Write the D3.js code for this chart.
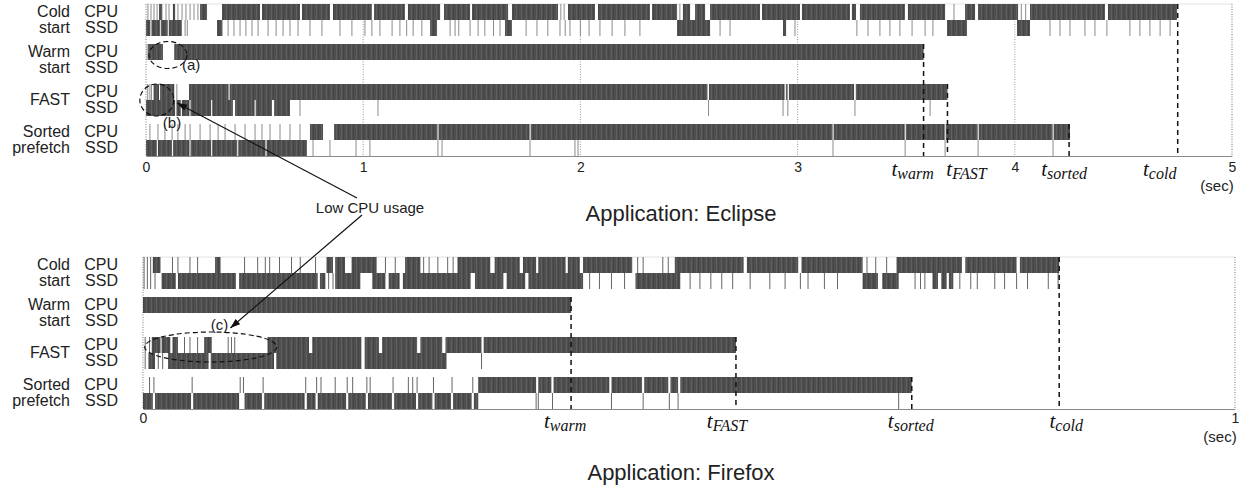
<!DOCTYPE html>
<html lang="en">
<head>
<meta charset="UTF-8">
<title>Launch traces: Eclipse and Firefox</title>
<script src="https://d3js.org/d3.v7.min.js"></script>
<style>
    body { margin: 0; background: #fff; }
    svg { display: block; font-family: "Liberation Sans", Arial, Helvetica, sans-serif; }
    .row-label { font-size: 16px; fill: #222; }
    .tick text { font-size: 14px; fill: #222; }
    .tmark { font-family: "Liberation Serif", "Times New Roman", serif; font-style: italic; fill: #111; }
    .note { font-size: 15px; fill: #222; }
    .title { font-size: 22px; fill: #222; }
</style>
</head>
<body>
<svg id="chart" width="1241" height="489"></svg>
<script>
    // scenario rows, each with a CPU and an SSD trace
    const scenarios = ["Cold start", "Warm start", "FAST", "Sorted prefetch"];
    const scenarioLabels = [["Cold", "start"], ["Warm", "start"], ["FAST"], ["Sorted", "prefetch"]];
    const devices = ["CPU", "SSD"];
    const markerNames = ["warm", "FAST", "sorted", "cold"];
    const markerScenario = ["Warm start", "FAST", "Sorted prefetch", "Cold start"];

    const eclipseTicks = [0, 1, 2, 3, 4, 5];
    const firefoxTicks = [0, 1];
    // launch completion times (sec) for warm, FAST, sorted, cold
    const eclipseLaunch = [3.58, 3.69, 4.25, 4.75];
    const firefoxLaunch = [0.392, 0.543, 0.704, 0.839];

    // busy spans [start, end] in sec, plain numbers are short single events
    const eclipseColdCpu = [0.009, 0.023, 0.037, 0.051, [0.06, 0.075], 0.092, 0.106, [0.124, 0.134], 0.147, 0.166, 0.184, 0.203, 0.221, 0.239,
        [0.249, 0.281], [0.35, 0.525], [0.534, 0.709], [0.718, 0.847], [0.861, 1.04], [1.05, 1.192], [1.206, 1.354], [1.372, 1.492],
        [1.501, 1.667], [1.685, 1.897], 1.91, 1.925, [1.943, 2.067], [2.081, 2.32], [2.33, 2.445], 2.458, [2.472, 2.505], [2.528, 2.574],
        [2.597, 2.827], [2.836, 3.011], [3.02, 3.241], [3.25, 3.269], [3.287, 3.494], [3.508, 3.679], 3.72, [3.771, 3.817],
        [3.831, 4.015], 4.03, 4.05, [4.07, 4.415], [4.429, 4.747]];
    const eclipseColdSsd = [[0, 0.02], [0.025, 0.064], [0.068, 0.1], [0.105, 0.165], 0.18, 0.19, [0.327, 0.352], 0.378, 0.405, 0.433,
        0.46, 0.488, 0.516, 0.562, 0.599, 0.631, 0.663, 0.7, 0.755, 0.81, 0.893, 0.948, 1.008, 1.04, 1.077, 1.133, 1.169, 1.2,
        1.23, 1.27, [1.308, 1.34], 1.4, 1.423, 1.44, 1.492, 1.529, 1.56, 1.6, 1.63, [1.653, 1.685], 1.75, 1.8, 1.85, 1.906, 1.93,
        1.952, 2.0, 2.04, 2.09, 2.146, 2.205, 2.274, [2.445, 2.597], 2.643, 2.689, [2.933, 2.947], 2.988, 3.273, 3.324, 3.379,
        3.425, 3.471, 3.527, 3.587, 3.623, [3.688, 3.78], [4.01, 4.07], 4.162, 4.208, 4.254, 4.323, 4.369, 4.424, 4.53, 4.576,
        4.622, 4.669, 4.715];
    const eclipseWarmCpu = [0.005, [0.01, 0.078], [0.13, 3.58]];
    const eclipseWarmSsd = [];
    const eclipseFastCpu = [0.008, 0.018, 0.025, [0.035, 0.06], [0.065, 0.13], 0.142, [0.198, 0.38], [0.385, 2.585], [2.592, 2.94],
        [2.946, 2.954], [2.96, 3.26], [3.268, 3.69]];
    const eclipseFastSsd = [[0, 0.134], [0.14, 0.16], [0.165, 0.2], [0.205, 0.3], [0.305, 0.4], [0.41, 0.5], [0.505, 0.58],
        [0.59, 0.663], 0.709, 1.068, 2.59, 2.933, 2.955, 3.264, 3.61];
    const eclipseSortedCpu = [0.018, 0.055, 0.087, 0.12, 0.147, 0.18, 0.203, 0.249, 0.295, 0.332, 0.364, 0.41, 0.456, 0.502, 0.534,
        0.571, 0.617, 0.663, 0.709, [0.755, 0.815], [0.866, 1.342], [1.347, 1.766], [1.771, 3.161], [3.166, 3.493], [3.498, 3.677],
        [3.682, 3.829], [3.834, 4.174], [4.179, 4.254]];
    const eclipseSortedSsd = [[0, 0.05], [0.055, 0.12], [0.125, 0.2], [0.205, 0.3], [0.305, 0.42], [0.425, 0.55], [0.555, 0.741],
        0.769, 0.847, 0.967, 1.031, 1.344, 1.363, 1.768, 1.975, 1.989, 3.163, 3.495, 3.679, 3.831, 4.176];

    const firefoxColdCpu = [0.001, 0.004, 0.007, [0.009, 0.016], 0.027, 0.032, 0.043, 0.05, [0.066, 0.071], 0.093, 0.105, 0.112,
        0.116, 0.125, 0.136, 0.144, 0.158, [0.168, 0.174], [0.176, 0.185], [0.191, 0.214], 0.222, 0.231, [0.24, 0.254], 0.257,
        0.262, 0.27, 0.279, 0.284, [0.288, 0.318], [0.322, 0.345], [0.348, 0.36], [0.362, 0.387], [0.389, 0.4], [0.403, 0.448],
        0.453, 0.458, 0.476, 0.481, [0.487, 0.55], [0.553, 0.6], [0.603, 0.659], 0.663, 0.671, 0.681, [0.69, 0.75], [0.753, 0.8],
        [0.803, 0.839]];
    const firefoxColdSsd = [0.001, 0.004, 0.007, 0.011, [0.017, 0.03], [0.032, 0.085], [0.088, 0.16], [0.162, 0.167], 0.17, 0.174,
        [0.176, 0.199], [0.21, 0.222], [0.225, 0.235], [0.238, 0.3], [0.304, 0.33], [0.333, 0.35], [0.353, 0.403], 0.409, 0.418,
        0.429, 0.441, [0.451, 0.492], 0.501, 0.51, 0.52, 0.53, 0.54, 0.556, 0.574, 0.588, 0.602, 0.609, 0.624, 0.636,
        [0.659, 0.673], [0.677, 0.692], 0.707, 0.712, 0.716, [0.723, 0.728], [0.731, 0.736], [0.738, 0.742], 0.748, 0.758, 0.764,
        0.78, 0.789, 0.8, 0.81, 0.829, 0.838];
    const firefoxWarmCpu = [[0, 0.392]];
    const firefoxWarmSsd = [];
    const firefoxFastCpu = [0.002, 0.006, [0.008, 0.016], [0.017, 0.025], [0.027, 0.032], 0.038, 0.043, 0.05, [0.056, 0.063], 0.078,
        0.081, 0.084, [0.114, 0.152], [0.155, 0.2], [0.203, 0.216], [0.219, 0.251], [0.254, 0.274], [0.277, 0.31], [0.312, 0.543]];
    const firefoxFastSsd = [0.002, [0.005, 0.011], 0.014, 0.018, [0.023, 0.06], [0.062, 0.12], [0.122, 0.2], [0.203, 0.278], 0.31];
    const firefoxSortedCpu = [0.006, 0.01, 0.045, 0.089, 0.092, 0.11, 0.149, 0.159, 0.163, 0.176, 0.187, 0.192, 0.205, 0.208,
        0.229, 0.243, 0.247, 0.251, 0.266, 0.283, 0.302, [0.307, 0.36], [0.362, 0.374], [0.376, 0.427], [0.429, 0.457],
        [0.459, 0.481], [0.483, 0.49], [0.492, 0.704]];
    const firefoxSortedSsd = [[0, 0.009], [0.011, 0.044], [0.046, 0.088], [0.093, 0.109], [0.111, 0.148], [0.15, 0.158],
        [0.16, 0.186], [0.188, 0.204], [0.206, 0.228], [0.23, 0.25], [0.252, 0.265], [0.267, 0.282], [0.284, 0.301],
        [0.303, 0.307], 0.36, 0.362, 0.375, 0.429, 0.458, 0.482, 0.49, 0.692];

    const svg = d3.select("#chart");

    // striped fill so busy spans look like dense trace samples
    const defs = svg.append("defs");
    const pat = defs.append("pattern").attr("id", "busy")
        .attr("width", 5).attr("height", 10).attr("patternUnits", "userSpaceOnUse");
    pat.append("rect").attr("width", 5).attr("height", 10).attr("fill", "#4f4f4f");
    pat.append("rect").attr("x", 1).attr("width", 0.6).attr("height", 10).attr("fill", "#6a6a6a");
    pat.append("rect").attr("x", 3.3).attr("width", 0.5).attr("height", 10).attr("fill", "#3a3a3a");
    defs.append("marker").attr("id", "arrow")
        .attr("viewBox", "0 0 10 7").attr("refX", 10).attr("refY", 3.5)
        .attr("markerWidth", 10).attr("markerHeight", 7).attr("markerUnits", "userSpaceOnUse")
        .attr("orient", "auto")
        .append("path").attr("d", "M0,0 L10,3.5 L0,7 z").attr("fill", "#111");

    function drawPanel(p) {
        const g = svg.append("g");
        const x = d3.scaleLinear().domain([0, p.max]).range(p.xRange);
        const band = d3.scaleBand().domain(scenarios).range(p.yRange).paddingInner(0.2);
        const sub = d3.scaleBand().domain(devices).range([0, band.bandwidth()]);
        const base = p.yRange[1];

        // frame: faint top line, dotted grid at each tick
        g.append("line").attr("x1", x(0)).attr("x2", x(p.max)).attr("y1", p.yRange[0]).attr("y2", p.yRange[0])
            .attr("stroke", "#e2e2e2");
        g.selectAll(".grid").data(p.ticks).join("line")
            .attr("x1", d => x(d)).attr("x2", d => x(d))
            .attr("y1", p.yRange[0]).attr("y2", base)
            .attr("stroke", d => (d === 0 || d === p.max) ? "#777" : "#999")
            .attr("stroke-dasharray", "1,1.5");

        // traces
        scenarios.forEach((s, i) => {
            devices.forEach((dev, j) => {
                const spans = p.traces[i][j];
                const y0 = band(s) + sub(dev);
                g.append("g").selectAll("rect").data(spans).join("rect")
                    .attr("x", d => Array.isArray(d) ? x(d[0]) : x(d) - 0.5)
                    .attr("width", d => Array.isArray(d) ? Math.max(x(d[1]) - x(d[0]), 1) : 1)
                    .attr("y", y0).attr("height", sub.bandwidth())
                    .attr("fill", d => Array.isArray(d) ? "url(#busy)" : p.thin);
            });
        });

        // row labels
        scenarios.forEach((s, i) => {
            const lines = scenarioLabels[i];
            const cy = band(s) + band.bandwidth() / 2;
            lines.forEach((t, k) => {
                const yy = lines.length === 1 ? cy : band(s) + sub(devices[k]) + sub.bandwidth() / 2;
                g.append("text").attr("class", "row-label")
                    .attr("x", 70).attr("y", yy - 1).attr("dy", "0.35em")
                    .attr("text-anchor", "end").text(t);
            });
            devices.forEach(dev => {
                g.append("text").attr("class", "row-label")
                    .attr("x", 118).attr("y", band(s) + sub(dev) + sub.bandwidth() / 2 - 1).attr("dy", "0.35em")
                    .attr("text-anchor", "end").text(dev);
            });
        });

        // axis
        const axis = g.append("g").attr("transform", `translate(0,${base})`)
            .call(d3.axisBottom(x).tickValues(p.ticks).tickSize(0).tickPadding(p.tickPad).tickFormat(d3.format("d")));
        axis.select(".domain").attr("stroke", "#8a8a8a");
        axis.selectAll(".tick text").attr("font-family", null).attr("font-size", null);
        g.append("text").attr("class", "note").attr("font-size", 14)
            .attr("x", x(p.max) - 15).attr("y", base + p.secDy).attr("text-anchor", "middle").text("(sec)");

        // launch completion markers
        markerNames.forEach((m, k) => {
            const t = p.launch[k];
            g.append("line").attr("x1", x(t)).attr("x2", x(t))
                .attr("y1", band(markerScenario[k])).attr("y2", base)
                .attr("stroke", "#111").attr("stroke-width", 1.5).attr("stroke-dasharray", "5,4");
            const lab = g.append("text").attr("class", "tmark")
                .attr("x", x(t) + p.labelDx[k]).attr("y", base + p.labelDy)
                .attr("text-anchor", "middle").attr("font-size", 21).text("t");
            lab.append("tspan").attr("font-size", 16).attr("dy", 3).text(m);
        });

        svg.append("text").attr("class", "title")
            .attr("x", 681).attr("y", p.titleY).attr("text-anchor", "middle").text(p.title);

        return { x, band, sub };
    }

    const eclipsePanel = drawPanel({
        max: 5, ticks: eclipseTicks, xRange: [146, 1232], yRange: [4, 156],
        traces: [[eclipseColdCpu, eclipseColdSsd], [eclipseWarmCpu, eclipseWarmSsd],
                 [eclipseFastCpu, eclipseFastSsd], [eclipseSortedCpu, eclipseSortedSsd]],
        launch: eclipseLaunch, labelDx: [-11, 19, -5, -18], labelDy: 20, secDy: 35, tickPad: 6,
        thin: "#8c8c8c", title: "Application: Eclipse", titleY: 221
    });
    const firefoxPanel = drawPanel({
        max: 1, ticks: firefoxTicks, xRange: [143, 1235], yRange: [257, 409],
        traces: [[firefoxColdCpu, firefoxColdSsd], [firefoxWarmCpu, firefoxWarmSsd],
                 [firefoxFastCpu, firefoxFastSsd], [firefoxSortedCpu, firefoxSortedSsd]],
        launch: firefoxLaunch, labelDx: [-6, -9, -1, 7], labelDy: 19, secDy: 33, tickPad: 4,
        thin: "#666", title: "Application: Firefox", titleY: 480
    });

    // annotations: dashed ellipses marking low CPU usage
    const ann = svg.append("g").attr("fill", "none").attr("stroke", "#111")
        .attr("stroke-width", 1.2).attr("stroke-dasharray", "5,3");
    ann.append("ellipse").attr("cx", eclipsePanel.x(0.101)).attr("cy", eclipsePanel.band("Warm start") + 11).attr("rx", 19).attr("ry", 13.5);
    ann.append("ellipse").attr("cx", eclipsePanel.x(0.05)).attr("cy", eclipsePanel.band("FAST") + 16).attr("rx", 17).attr("ry", 16);
    ann.append("ellipse").attr("cx", firefoxPanel.x(0.062)).attr("cy", firefoxPanel.band("FAST") + 10).attr("rx", 66).attr("ry", 15);

    svg.append("text").attr("class", "note").attr("x", eclipsePanel.x(0.101) + 14).attr("y", eclipsePanel.band("Warm start") + 26).text("(a)");
    svg.append("text").attr("class", "note").attr("x", eclipsePanel.x(0.05) + 6).attr("y", eclipsePanel.band("FAST") + 44).text("(b)");
    svg.append("text").attr("class", "note").attr("x", firefoxPanel.x(0.062)).attr("y", firefoxPanel.band("FAST") - 7).text("(c)");

    const noteX = 370, noteY = 208;
    svg.append("text").attr("class", "note").attr("font-size", 16).attr("x", noteX).attr("y", noteY).attr("dy", "0.35em")
        .attr("text-anchor", "middle").text("Low CPU usage");
    svg.append("line").attr("x1", noteX - 13).attr("y1", noteY - 10)
        .attr("x2", eclipsePanel.x(0.143)).attr("y2", eclipsePanel.band("FAST") + 19)
        .attr("stroke", "#111").attr("stroke-width", 1.2).attr("marker-end", "url(#arrow)");
    svg.append("line").attr("x1", noteX - 8).attr("y1", noteY + 7)
        .attr("x2", firefoxPanel.x(0.08)).attr("y2", firefoxPanel.band("FAST") - 9)
        .attr("stroke", "#111").attr("stroke-width", 1.2).attr("marker-end", "url(#arrow)");
</script>
</body>
</html>
